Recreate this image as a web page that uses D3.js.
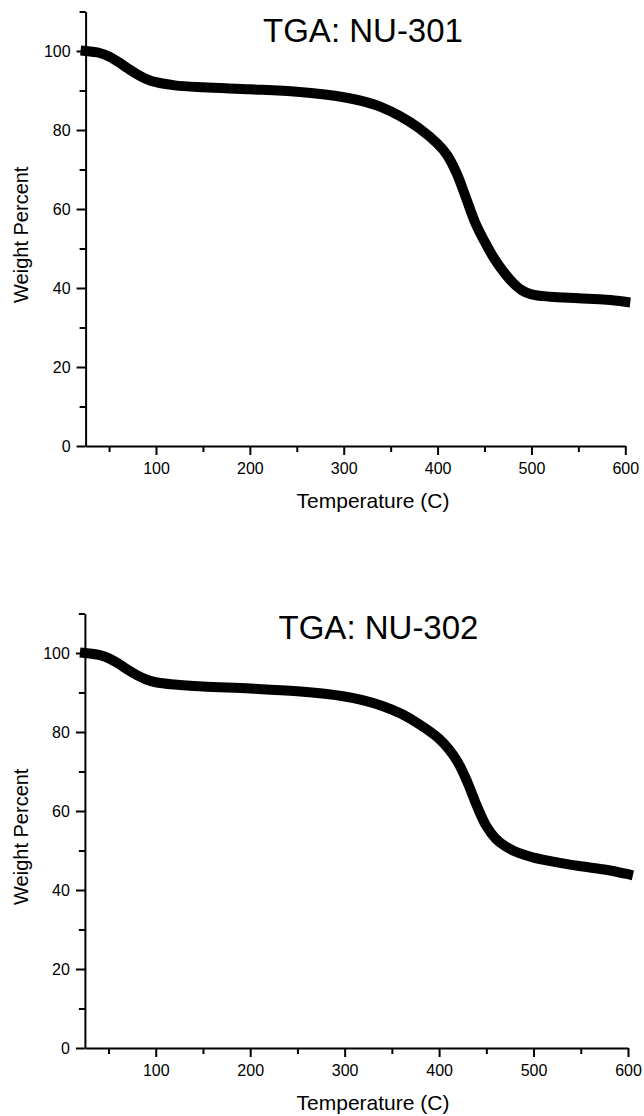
<!DOCTYPE html>
<html>
<head>
<meta charset="utf-8">
<script src="https://cdn.jsdelivr.net/npm/d3@7"></script>
<style>
	body { margin: 0; background: #fff; }
	svg { display: block; font-family: "Liberation Sans", Arial, sans-serif; }
	.axis path, .axis line { stroke: #000; stroke-width: 2; }
	.axis text { fill: #000; font-size: 16px; font-family: "Liberation Sans", Arial, sans-serif; }
	.curve { fill: none; stroke: #000; stroke-width: 10; stroke-linecap: square; stroke-linejoin: round; }
</style>
</head>
<body>
<svg id="chart" width="644" height="1116"></svg>
<script>
'use strict';

var TITLES = ["TGA: NU-301", "TGA: NU-302"];
var X_LABEL = "Temperature (C)";
var Y_LABEL = "Weight Percent";

var X_DOMAIN = [25, 600];
var Y_DOMAIN = [0, 110];
var X_MAJOR = [100, 200, 300, 400, 500, 600];
var X_MINOR = [50, 150, 250, 350, 450, 550];
var Y_MAJOR = [0, 20, 40, 60, 80, 100];
var Y_MINOR = [10, 30, 50, 70, 90, 110];

var temp301 = [25, 40, 50, 60, 70, 80, 90, 100, 120, 150, 200, 250, 280, 300, 320, 340, 360, 380, 400, 410, 420, 430, 440, 450, 460, 470, 480, 490, 500, 520, 550, 580, 600];
var weight301 = [100, 99.5, 98.6, 97.2, 95.6, 94.1, 92.9, 92.1, 91.3, 90.8, 90.3, 89.7, 89, 88.3, 87.3, 85.8, 83.5, 80.5, 76.5, 73.7, 69.2, 63, 56.6, 51.8, 47.6, 44.2, 41.4, 39.4, 38.4, 37.8, 37.4, 37, 36.5];

var temp302 = [25, 40, 50, 60, 70, 80, 90, 100, 120, 150, 200, 250, 300, 320, 340, 360, 380, 400, 410, 420, 430, 440, 450, 460, 470, 480, 490, 500, 525, 550, 575, 600];
var weight302 = [100, 99.5, 98.7, 97.4, 95.8, 94.4, 93.3, 92.6, 92, 91.5, 91, 90.3, 89, 88, 86.6, 84.6, 81.8, 78.3, 75.7, 72.3, 67.3, 61.3, 56.2, 53, 51.1, 49.8, 48.9, 48.2, 47, 46, 45.2, 44];

function zip(xs, ys) {
	var ret = [];
	for (var i = 0; i < xs.length; i++) {
		ret.push({ t: xs[i], w: ys[i] });
	}
	return ret;
}

var svg = d3.select("#chart");

// panel layout: plot box in page pixels
var panels = [
	{ left: 85.6, right: 625.3, top: 11.5, bottom: 446, title: TITLES[0], titleX: 363, titleY: 42, data: zip(temp301, weight301) },
	{ left: 84.9, right: 628, top: 613.5, bottom: 1048, title: TITLES[1], titleX: 378.5, titleY: 639, data: zip(temp302, weight302) }
];

panels.forEach(function (p) {
	var x = d3.scaleLinear().domain(X_DOMAIN).range([p.left, p.right]);
	var y = d3.scaleLinear().domain(Y_DOMAIN).range([p.bottom, p.top]);

	var line = d3.line()
		.x(function (d) { return x(d.t); })
		.y(function (d) { return y(d.w); })
		.curve(d3.curveCatmullRom.alpha(0.5));

	// minor ticks
	svg.append("g")
		.attr("class", "axis")
		.attr("transform", "translate(0," + p.bottom + ")")
		.call(d3.axisBottom(x).tickValues(X_MINOR).tickSize(6).tickFormat(""))
		.call(function (g) { g.select(".domain").remove(); });

	svg.append("g")
		.attr("class", "axis")
		.attr("transform", "translate(" + p.left + ",0)")
		.call(d3.axisLeft(y).tickValues(Y_MINOR).tickSize(6).tickFormat(""))
		.call(function (g) { g.select(".domain").remove(); });

	// major ticks
	svg.append("g")
		.attr("class", "axis")
		.attr("transform", "translate(0," + p.bottom + ")")
		.call(d3.axisBottom(x).tickValues(X_MAJOR).tickSize(9).tickSizeOuter(0).tickPadding(8));

	svg.append("g")
		.attr("class", "axis")
		.attr("transform", "translate(" + p.left + ",0)")
		.call(d3.axisLeft(y).tickValues(Y_MAJOR).tickSize(9).tickSizeOuter(0).tickPadding(6));

	svg.append("path")
		.datum(p.data)
		.attr("class", "curve")
		.attr("d", line);

	svg.append("text")
		.attr("x", p.titleX)
		.attr("y", p.titleY)
		.attr("text-anchor", "middle")
		.style("font-size", "33px")
		.text(p.title);

	svg.append("text")
		.attr("x", 373)
		.attr("y", p.bottom + 62)
		.attr("text-anchor", "middle")
		.style("font-size", "21px")
		.text(X_LABEL);

	svg.append("text")
		.attr("transform", "translate(28," + ((p.top + p.bottom) / 2 + 6) + ") rotate(-90)")
		.attr("text-anchor", "middle")
		.style("font-size", "20px")
		.text(Y_LABEL);
});
</script>
</body>
</html>
